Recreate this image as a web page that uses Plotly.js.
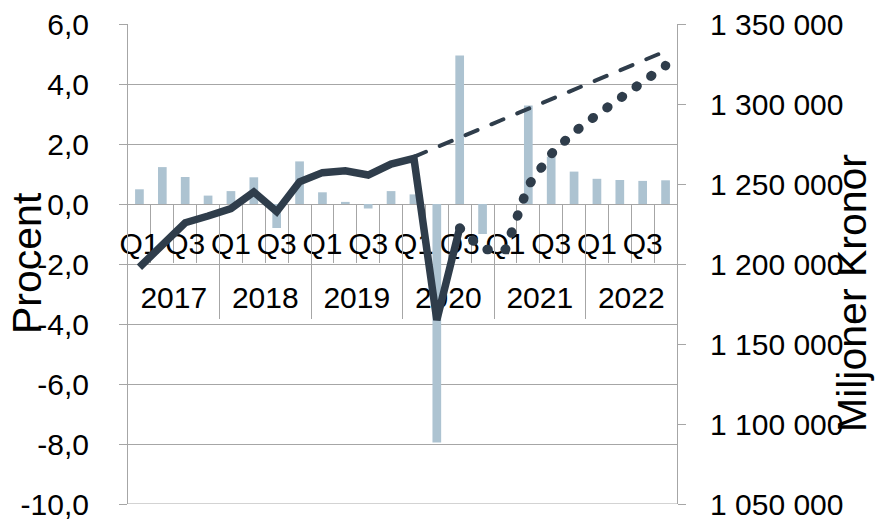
<!DOCTYPE html>
<html>
<head>
<meta charset="utf-8">
<script src="https://cdn.plot.ly/plotly-3.0.1.min.js"></script>
<style>
html,body{margin:0;padding:0;background:#fff;}
#chart{width:879px;height:520px;}
</style>
</head>
<body>
<div id="chart"></div>
<script>
// ---- data ----
const years = ['2017', '2018', '2019', '2020', '2021', '2022'];
const quarters = ['Q1', 'Q2', 'Q3', 'Q4'];
const periods = years.flatMap(y => quarters.map(q => y + ' ' + q));

// Quarterly growth, percent (left axis)
const growth = [0.49, 1.23, 0.90, 0.28,
                0.43, 0.89, -0.80, 1.42,
                0.39, 0.07, -0.15, 0.43,
                0.32, -7.95, 4.95, -1.00,
                0.00, 3.28, 1.58, 1.08,
                0.84, 0.80, 0.77, 0.79];

// GDP level, million SEK (right axis) – outcome 2017Q1–2020Q3
const gdpOutcome = [1198000, 1212500, 1225800, 1230000,
                    1234600, 1245000, 1232700, 1251400,
                    1257100, 1258300, 1255600, 1262500,
                    1266000, 1165000, 1222500];
// Forecast 2020Q3–2022Q4
const gdpForecast = [1222500, 1209000, 1209000, 1249000, 1268700,
                     1282400, 1293200, 1303500, 1313600, 1324000];
// Pre-crisis trend 2020Q1–2022Q4
const gdpTrend = [1267000, 1273000, 1279000, 1285000, 1291000, 1297000,
                  1303000, 1309000, 1315000, 1321000, 1327000, 1333000];

const leftTickVals = [-10, -8, -6, -4, -2, 0, 2, 4, 6];
const leftTickText = ['-10,0', '-8,0', '-6,0', '-4,0', '-2,0', '0,0', '2,0', '4,0', '6,0'];
const rightTickVals = [1050000, 1100000, 1150000, 1200000, 1250000, 1300000, 1350000];
const rightTickText = ['1 050 000', '1 100 000', '1 150 000', '1 200 000', '1 250 000', '1 300 000', '1 350 000'];
const shownQuarterLabels = ['Q1', 'Q3'];

// ---- positions derived from the period list ----
const pos = periods.map((p, i) => i);
const idxOf = p => periods.indexOf(p);
const outcomeX = pos.slice(0, gdpOutcome.length);
const forecastX = pos.slice(idxOf('2020 Q3'), idxOf('2020 Q3') + gdpForecast.length);
const trendX = pos.slice(idxOf('2020 Q1'), idxOf('2020 Q1') + gdpTrend.length);

const qTickVals = [], qTickText = [];
periods.forEach((p, i) => {
  const q = p.split(' ')[1];
  if (shownQuarterLabels.includes(q)) { qTickVals.push(i); qTickText.push(q); }
});
const qBoundaries = pos.slice(1).map(i => i - 0.5);
const yearCenters = years.map((y, k) => k * quarters.length + (quarters.length - 1) / 2);
const yearBoundaries = years.slice(1).map((y, k) => (k + 1) * quarters.length - 0.5);

const FONT = '"Liberation Sans", Arial, Helvetica, sans-serif';
const GRID = '#a6a6a6';
const DARK = '#2f3d4b';
const BAR = '#adc3d1';

const traces = [
  { type: 'bar', x: pos, y: growth, xaxis: 'x', yaxis: 'y',
    marker: { color: BAR, line: { width: 0 } }, name: 'Procent' },
  { type: 'scatter', mode: 'lines', x: outcomeX, y: gdpOutcome, xaxis: 'x', yaxis: 'y2',
    line: { color: DARK, width: 7.5 }, name: 'BNP' },
  { type: 'scatter', mode: 'lines', x: trendX, y: gdpTrend, xaxis: 'x', yaxis: 'y2',
    line: { color: DARK, width: 4, dash: '13px,15px' }, name: 'Trend' },
  { type: 'scatter', mode: 'lines', x: forecastX, y: gdpForecast, xaxis: 'x', yaxis: 'y2',
    line: { color: DARK, width: 9.5, dash: '1px,17px' }, name: 'Prognos' },
  { type: 'scatter', mode: 'markers', x: [pos[0]], y: [null], xaxis: 'x2', yaxis: 'y',
    hoverinfo: 'skip', showlegend: false, marker: { opacity: 0 } }
];

const zeroPos = (0 - (-10)) / (6 - (-10));

const layout = {
  width: 879, height: 520,
  margin: { l: 128, r: 202, t: 24, b: 16, pad: 0 },
  paper_bgcolor: '#ffffff', plot_bgcolor: '#ffffff',
  showlegend: false,
  bargap: 0.62,
  font: { family: FONT, color: '#000000', size: 30 },
  xaxis: {
    range: [-0.5, 23.5], anchor: 'free', position: zeroPos,
    showline: true, linecolor: GRID, linewidth: 1,
    showgrid: false, zeroline: false,
    tickmode: 'array', tickvals: qTickVals, ticktext: qTickText,
    ticks: '', ticklabelstandoff: 13, ticklabeloverflow: 'allow',
    tickfont: { family: FONT, size: 30, color: '#000' },
    minor: { tickmode: 'array', tickvals: qBoundaries, ticks: 'outside', ticklen: 58,
             tickcolor: GRID, tickwidth: 1, showgrid: false },
    layer: 'below traces', fixedrange: true
  },
  xaxis2: {
    overlaying: 'x', range: [-0.5, 23.5], anchor: 'free', position: zeroPos,
    showline: false, showgrid: false, zeroline: false,
    tickmode: 'array', tickvals: yearCenters, ticktext: years,
    ticks: '', ticklabelstandoff: 73, ticklabeloverflow: 'allow',
    tickfont: { family: FONT, size: 30, color: '#000' },
    minor: { tickmode: 'array', tickvals: yearBoundaries, ticks: 'outside', ticklen: 114,
             tickcolor: GRID, tickwidth: 1, showgrid: false },
    layer: 'below traces', fixedrange: true
  },
  yaxis: {
    range: [-10, 6], tickmode: 'array', tickvals: leftTickVals, ticktext: leftTickText,
    ticks: 'outside', ticklen: 8, tickcolor: GRID, tickwidth: 1,
    showline: true, linecolor: GRID, linewidth: 1,
    showgrid: true, gridcolor: GRID, gridwidth: 1, zeroline: false,
    tickfont: { family: FONT, size: 30, color: '#000' },
    ticklabelstandoff: 24, ticklabeloverflow: 'allow', fixedrange: true
  },
  yaxis2: {
    overlaying: 'y', side: 'right', range: [1050000, 1350000],
    tickmode: 'array', tickvals: rightTickVals, ticktext: rightTickText,
    ticks: 'outside', ticklen: 8, tickcolor: GRID, tickwidth: 1,
    showline: true, linecolor: GRID, linewidth: 1,
    showgrid: false, zeroline: false,
    tickfont: { family: FONT, size: 30, color: '#000' },
    ticklabelstandoff: 18, ticklabeloverflow: 'allow', fixedrange: true
  },
  shapes: [
    { type: 'line', xref: 'paper', yref: 'y', x0: 0, x1: 1, y0: -10, y1: -10,
      line: { color: GRID, width: 1 }, layer: 'below' }
  ],
  annotations: [
    { text: 'Procent', xref: 'paper', yref: 'paper', x: (27 - 128) / 549, y: (504 - 263) / 480,
      xanchor: 'center', yanchor: 'middle', textangle: -90, showarrow: false,
      font: { family: FONT, size: 41, color: '#000' } },
    { text: 'Miljoner Kronor', xref: 'paper', yref: 'paper', x: (852 - 128) / 549, y: (504 - 293) / 480,
      xanchor: 'center', yanchor: 'middle', textangle: -90, showarrow: false,
      font: { family: FONT, size: 41, color: '#000' } }
  ]
};

Plotly.newPlot('chart', traces, layout, { displayModeBar: false, staticPlot: true }).then(() => {
  document.querySelectorAll('#chart path.js-line').forEach(p => {
    const d = p.style.strokeDasharray;
    if (d && d !== 'none') { p.style.strokeLinecap = 'round'; }
  });
});
</script>
</body>
</html>
